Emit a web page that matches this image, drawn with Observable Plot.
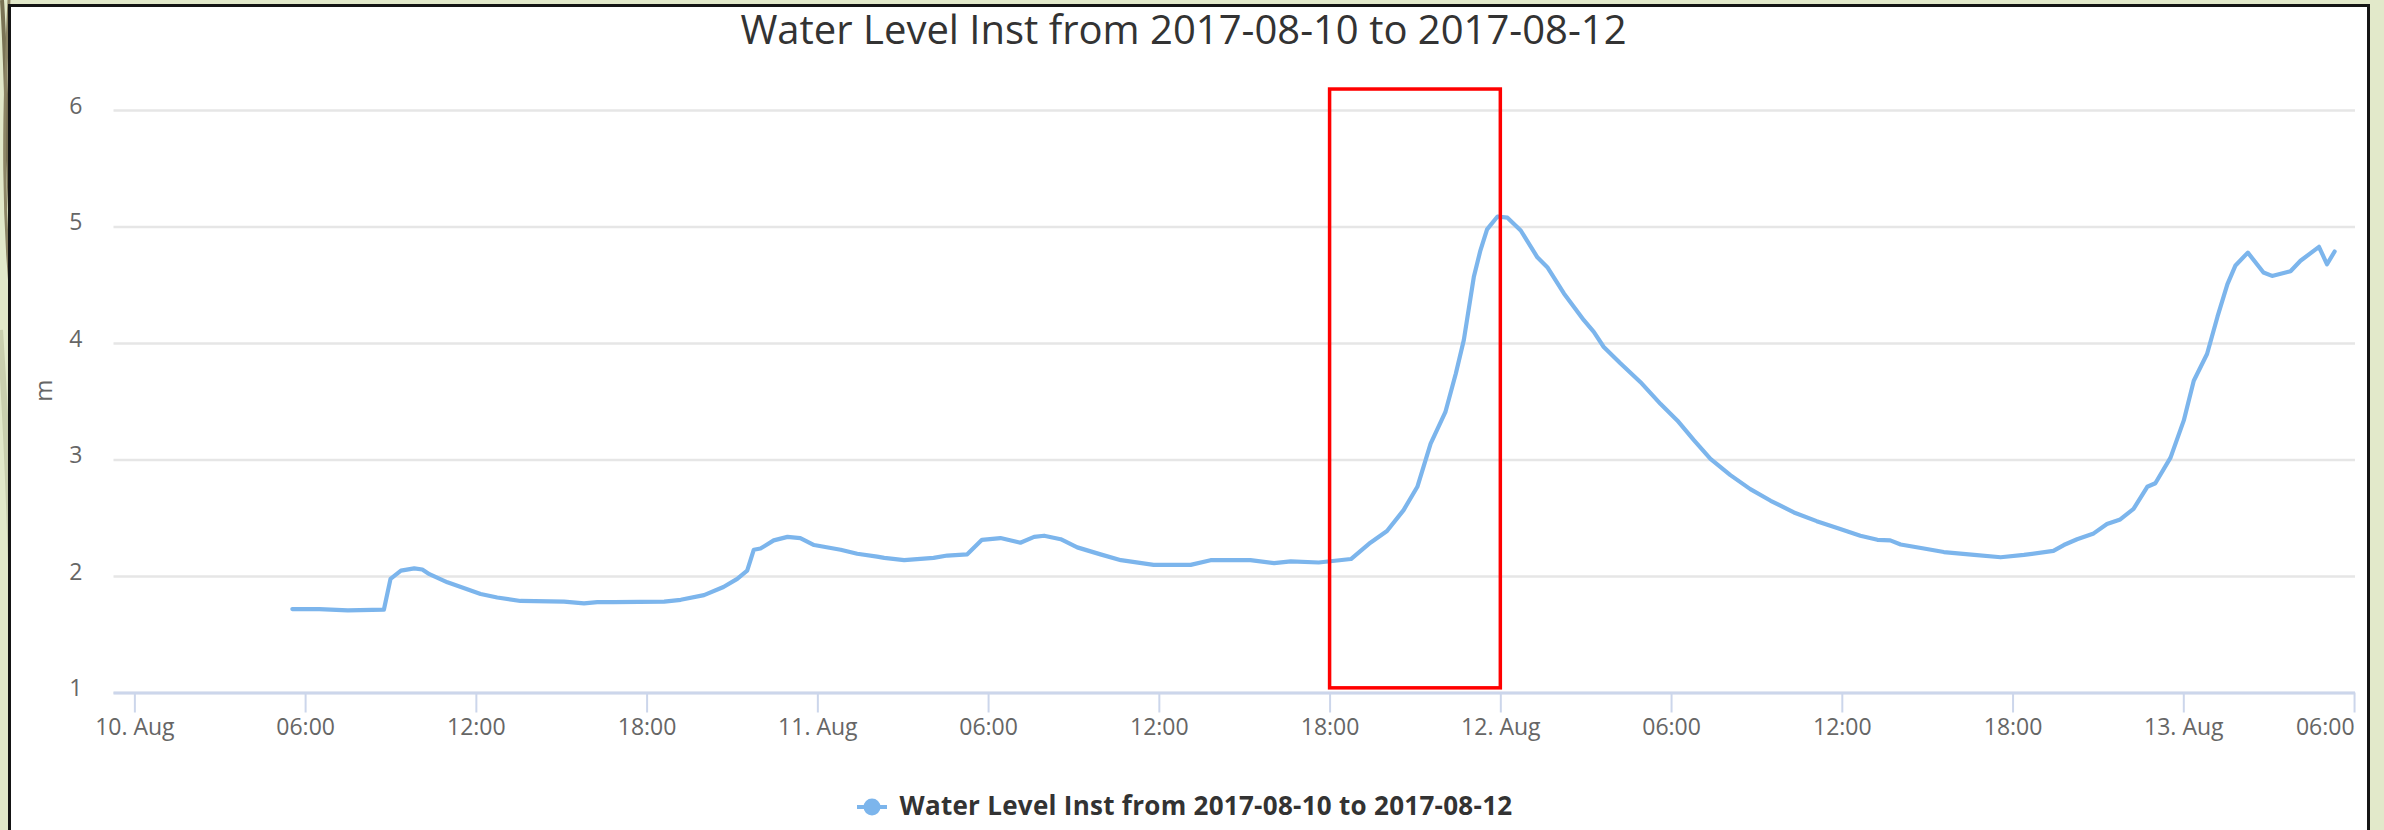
<!DOCTYPE html>
<html><head><meta charset="utf-8">
<script src="https://cdn.jsdelivr.net/npm/d3@7"></script>
<script src="https://cdn.jsdelivr.net/npm/@observablehq/plot@0.6"></script>
<style>
html,body{margin:0;padding:0}
body{width:2384px;height:830px;overflow:hidden;position:relative;background:#e2e9ca;font-family:"Open Sans",sans-serif}
#deco{position:absolute;left:0;top:0}
#frame{position:absolute;left:8px;top:4px;width:2362px;height:840px;background:#fff;border:3px solid #151515;box-sizing:border-box}
#title{position:absolute;left:0;top:8.5px;width:2367px;text-align:center;font-size:40px;line-height:40px;color:#333;white-space:nowrap}
#chart{position:absolute;left:0;top:60px}
#legsym{position:absolute;left:856px;top:797px}
#legtext{position:absolute;left:899.5px;top:792px;font-size:26px;line-height:26px;letter-spacing:0.28px;font-weight:bold;color:#333;white-space:nowrap}
</style></head>
<body>
<svg id="deco" width="2384" height="830">
  <path d="M2,0 C8,90 6,200 16,300" stroke="#7a7355" stroke-width="4" fill="none"/>
  <path d="M9,0 C3,120 2,220 14,330" stroke="#8d8666" stroke-width="3" fill="none"/>
  <path d="M0,330 C6,420 10,520 12,600" stroke="#c9cfae" stroke-width="6" fill="none"/>
</svg>
<div id="frame"></div>
<div id="title"></div>
<div id="chart"></div>
<svg id="legsym" width="34" height="20"><line x1="1" y1="10" x2="31" y2="10" stroke="#7cb5ec" stroke-width="4"/><circle cx="16" cy="10" r="8.5" fill="#7cb5ec"/></svg>
<div id="legtext"></div>
<script>
const chartTitle = "Water Level Inst from 2017-08-10 to 2017-08-12";
const seriesName = "Water Level Inst from 2017-08-10 to 2017-08-12";
const yLabel = "m";

const times = [
 "2017-08-10T05:32","2017-08-10T06:29","2017-08-10T07:29","2017-08-10T08:45","2017-08-10T08:59",
 "2017-08-10T09:21","2017-08-10T09:49","2017-08-10T10:06","2017-08-10T10:21","2017-08-10T10:59",
 "2017-08-10T12:09","2017-08-10T12:44","2017-08-10T13:33","2017-08-10T15:05","2017-08-10T15:47",
 "2017-08-10T16:15","2017-08-10T16:50","2017-08-10T18:36","2017-08-10T19:11","2017-08-10T20:00",
 "2017-08-10T20:41","2017-08-10T21:10","2017-08-10T21:31","2017-08-10T21:45","2017-08-10T21:59",
 "2017-08-10T22:27","2017-08-10T22:56","2017-08-10T23:23","2017-08-10T23:52","2017-08-11T00:48",
 "2017-08-11T01:23","2017-08-11T02:05","2017-08-11T02:20","2017-08-11T03:02","2017-08-11T04:04",
 "2017-08-11T04:33","2017-08-11T05:15","2017-08-11T05:46","2017-08-11T06:25","2017-08-11T07:07",
 "2017-08-11T07:36","2017-08-11T07:57","2017-08-11T08:32","2017-08-11T09:07","2017-08-11T09:56",
 "2017-08-11T10:39","2017-08-11T11:48","2017-08-11T13:06","2017-08-11T13:48","2017-08-11T15:12",
 "2017-08-11T16:02","2017-08-11T16:37","2017-08-11T17:36","2017-08-11T18:44","2017-08-11T19:25",
 "2017-08-11T20:00","2017-08-11T20:35","2017-08-11T21:04","2017-08-11T21:32","2017-08-11T22:03",
 "2017-08-11T22:25","2017-08-11T22:42","2017-08-11T23:03","2017-08-11T23:17","2017-08-11T23:31",
 "2017-08-11T23:53","2017-08-12T00:14","2017-08-12T00:42","2017-08-12T01:17","2017-08-12T01:38",
 "2017-08-12T02:13","2017-08-12T02:55","2017-08-12T03:16","2017-08-12T03:37","2017-08-12T04:12",
 "2017-08-12T04:54","2017-08-12T05:37","2017-08-12T06:12","2017-08-12T06:47","2017-08-12T07:22",
 "2017-08-12T08:04","2017-08-12T08:46","2017-08-12T09:29","2017-08-12T10:18","2017-08-12T11:06",
 "2017-08-12T11:54","2017-08-12T12:38","2017-08-12T13:14","2017-08-12T13:41","2017-08-12T14:03",
 "2017-08-12T14:52","2017-08-12T15:34","2017-08-12T16:38","2017-08-12T17:34","2017-08-12T18:23",
 "2017-08-12T19:25","2017-08-12T19:47","2017-08-12T20:15","2017-08-12T20:50","2017-08-12T21:18",
 "2017-08-12T21:46","2017-08-12T22:14","2017-08-12T22:43","2017-08-12T23:00","2017-08-12T23:32",
 "2017-08-13T00:00","2017-08-13T00:21","2017-08-13T00:49","2017-08-13T01:11","2017-08-13T01:32",
 "2017-08-13T01:49","2017-08-13T02:15","2017-08-13T02:48","2017-08-13T03:06","2017-08-13T03:45",
 "2017-08-13T04:06","2017-08-13T04:45","2017-08-13T05:02","2017-08-13T05:18"
];
const levels = [
 1.72,1.72,1.71,1.715,1.98,
 2.05,2.07,2.06,2.02,1.95,
 1.85,1.82,1.79,1.785,1.77,
 1.78,1.78,1.785,1.80,1.84,
 1.91,1.98,2.05,2.23,2.24,
 2.31,2.34,2.33,2.27,2.23,
 2.195,2.17,2.16,2.14,2.16,
 2.18,2.19,2.315,2.33,2.29,
 2.34,2.35,2.32,2.25,2.19,
 2.14,2.10,2.10,2.14,2.14,
 2.115,2.13,2.12,2.15,2.29,
 2.39,2.57,2.77,3.14,3.41,
 3.74,4.03,4.57,4.80,4.98,
 5.09,5.08,4.97,4.74,4.655,
 4.43,4.20,4.10,3.97,3.83,
 3.67,3.48,3.34,3.17,3.01,
 2.87,2.75,2.65,2.55,2.475,
 2.41,2.35,2.315,2.31,2.275,
 2.24,2.21,2.185,2.165,2.185,
 2.22,2.27,2.32,2.37,2.45,
 2.49,2.58,2.77,2.80,3.02,
 3.34,3.68,3.91,4.23,4.51,
 4.67,4.78,4.61,4.58,4.62,
 4.71,4.83,4.68,4.79
];

const xTickTimes = [
 "2017-08-10T00:00","2017-08-10T06:00","2017-08-10T12:00","2017-08-10T18:00",
 "2017-08-11T00:00","2017-08-11T06:00","2017-08-11T12:00","2017-08-11T18:00",
 "2017-08-12T00:00","2017-08-12T06:00","2017-08-12T12:00","2017-08-12T18:00",
 "2017-08-13T00:00","2017-08-13T06:00"
];
const xTickLabels = [
 "10. Aug","06:00","12:00","18:00",
 "11. Aug","06:00","12:00","18:00",
 "12. Aug","06:00","12:00","18:00",
 "13. Aug","06:00"
];
const yTicks = [1,2,3,4,5,6];
const xDomain = ["2017-08-09T23:16","2017-08-13T06:02"];
const yDomain = [1,6];

// highlighted window (red box)
const highlightTimes = ["2017-08-11T18:00","2017-08-12T00:00"];
const highlightLevels = [1.04,6.18];

const utc = s => new Date(s + ":00Z");
const data = times.map((t,i)=>({date: utc(t), level: levels[i]}));
const tickDates = xTickTimes.map(utc);
const labelOf = new Map(tickDates.map((d,i)=>[+d, xTickLabels[i]]));
const box = [{x1: utc(highlightTimes[0]), x2: utc(highlightTimes[1]), y1: highlightLevels[0], y2: highlightLevels[1]}];

document.getElementById("title").textContent = chartTitle;
document.getElementById("legtext").textContent = seriesName;

const chart = Plot.plot({
  width: 2384, height: 700,
  marginLeft: 113.5, marginRight: 29, marginTop: 50, marginBottom: 67.5,
  style: {fontFamily: "'Open Sans', sans-serif", fontSize: "23px", color: "#666", background: "transparent", overflow: "visible"},
  x: {type: "utc", domain: xDomain.map(utc)},
  y: {domain: yDomain},
  marks: [
    Plot.gridY(yTicks, {stroke: "#e6e6e6", strokeWidth: 2.5, strokeOpacity: 1}),
    Plot.ruleY([yDomain[0]], {stroke: "#ccd6eb", strokeWidth: 3}),
    Plot.axisX(tickDates.slice(0, -1), {tickSize: 20, tickPadding: 6, stroke: "#ccd6eb", strokeWidth: 2, fill: "#666",
      tickFormat: d => labelOf.get(+d)}),
    Plot.axisX(tickDates.slice(-1), {tickSize: 20, tickPadding: 6, stroke: "#ccd6eb", strokeWidth: 2, fill: "#666",
      textAnchor: "end", tickFormat: d => labelOf.get(+d), label: null}),
    Plot.axisY(yTicks, {tickSize: 0, tickPadding: 31.5, dy: -4, fill: "#666", label: null, tickFormat: d => String(d)}),
    Plot.text([yLabel], {text: d => d, frameAnchor: "left", dx: -69.5, rotate: -90, fontSize: 24, fill: "#666"}),
    Plot.line(data, {x: "date", y: "level", stroke: "#7cb5ec", strokeWidth: 4.2, strokeLinejoin: "round", strokeLinecap: "round"}),
    Plot.rect(box, {x1: "x1", x2: "x2", y1: "y1", y2: "y2", fill: "none", stroke: "#ff0000", strokeWidth: 3.5})
  ]
});
document.getElementById("chart").appendChild(chart);
</script>
</body></html>
